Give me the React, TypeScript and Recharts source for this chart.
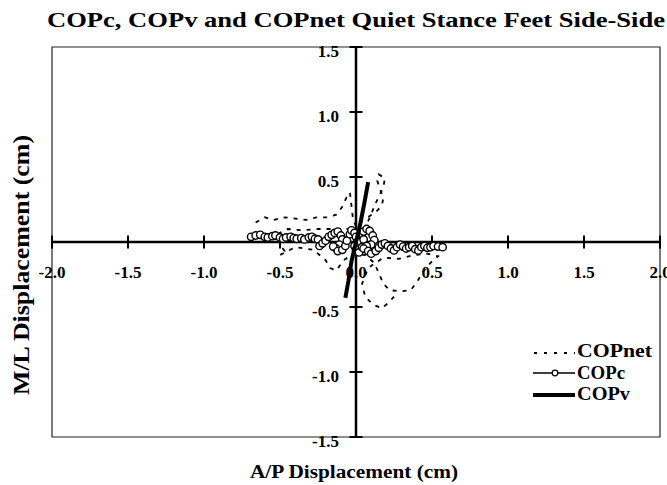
import React from 'react';
import {
  ScatterChart,
  Scatter,
  XAxis,
  YAxis,
  ReferenceLine,
  ReferenceArea,
  ReferenceDot,
  Legend,
} from 'recharts';

const FONT = '"Liberation Serif", "Times New Roman", serif';

const xTicks = [-2, -1.5, -1, -0.5, 0, 0.5, 1, 1.5, 2];
const xTickLabels = ['-2.0', '-1.5', '-1.0', '-0.5', '0.0', '0.5', '1.0', '1.5', '2.0'];
const yTicks = [-1.5, -1, -0.5, 0.5, 1, 1.5];
const yTickLabels = ['-1.5', '-1.0', '-0.5', '0.5', '1.0', '1.5'];
const yTickMarks = [-1.5, -1, -0.5, 0.5, 1, 1.5];

const seriesNames = ['COPnet', 'COPc', 'COPv'];

const copnetPoints: number[][] = [
  [-0.66, 0.15], [-0.6, 0.19], [-0.54, 0.17], [-0.47, 0.19], [-0.4, 0.18], [-0.33, 0.17],
  [-0.26, 0.19], [-0.19, 0.19], [-0.13, 0.21], [-0.09, 0.27], [-0.06, 0.35], [-0.04, 0.38],
  [-0.03, 0.28], [-0.02, 0.18], [0.0, 0.12], [0.04, 0.17], [0.09, 0.2], [0.13, 0.23],
  [0.17, 0.28], [0.18, 0.34], [0.16, 0.4], [0.14, 0.47], [0.15, 0.52], [0.19, 0.49],
  [0.18, 0.42], [0.13, 0.3], [0.08, 0.16], [0.03, 0.06], [-0.05, 0.1], [-0.15, 0.1],
  [-0.25, 0.1], [-0.35, 0.09], [-0.45, 0.1], [-0.52, 0.06], [-0.5, -0.02], [-0.47, -0.07],
  [-0.5, -0.1], [-0.4, -0.04], [-0.28, -0.06], [-0.2, -0.14], [-0.17, -0.2], [-0.13, -0.22],
  [-0.08, -0.14], [-0.02, -0.09], [0.06, -0.1], [0.12, -0.16], [0.15, -0.24], [0.18, -0.32],
  [0.22, -0.37], [0.29, -0.38], [0.36, -0.37], [0.4, -0.31], [0.44, -0.23], [0.49, -0.16],
  [0.54, -0.11], [0.47, -0.09], [0.38, -0.1], [0.28, -0.13], [0.18, -0.12], [0.08, -0.2],
  [0.04, -0.32], [0.06, -0.42], [0.11, -0.48], [0.17, -0.51], [0.22, -0.46], [0.25, -0.42],
];

const copcPoints: number[][] = [
  [-0.69, 0.04], [-0.66, 0.05], [-0.63, 0.055], [-0.6, 0.04], [-0.58, 0.035], [-0.55, 0.045],
  [-0.53, 0.05], [-0.5, 0.035], [-0.48, 0.025], [-0.46, 0.035], [-0.43, 0.04], [-0.41, 0.03],
  [-0.39, 0.025], [-0.36, 0.03], [-0.34, 0.02], [-0.31, 0.035], [-0.29, 0.04], [-0.27, 0.025],
  [-0.25, 0.02], [-0.24, -0.03], [-0.22, -0.01], [-0.2, 0.01], [-0.18, 0.04], [-0.16, 0.055],
  [-0.14, 0.07], [-0.12, 0.08], [-0.1, 0.05], [-0.09, 0.02], [-0.11, -0.02], [-0.13, -0.05],
  [-0.15, -0.035], [-0.12, -0.07], [-0.09, -0.06], [-0.07, -0.03], [-0.06, 0.01], [-0.04, 0.06],
  [-0.03, 0.09], [-0.01, 0.07], [0.0, 0.04], [0.01, 0.0], [-0.01, -0.03], [0.0, -0.06],
  [0.02, -0.08], [0.04, -0.04], [0.05, 0.02], [0.05, 0.08], [0.07, 0.1], [0.09, 0.085],
  [0.11, 0.05], [0.12, 0.015], [0.1, -0.02], [0.07, -0.03], [0.05, -0.05], [0.08, -0.07],
  [0.1, -0.09], [0.13, -0.07], [0.15, -0.045], [0.17, -0.02], [0.19, -0.01], [0.21, -0.03],
  [0.23, -0.05], [0.25, -0.065], [0.27, -0.04], [0.29, -0.02], [0.31, -0.035], [0.33, -0.05],
  [0.35, -0.04], [0.37, -0.03], [0.39, -0.055], [0.41, -0.065], [0.43, -0.04], [0.45, -0.03],
  [0.47, -0.045], [0.49, -0.04], [0.51, -0.03], [0.54, -0.035], [0.57, -0.04],
];

const copvPoints: number[][] = [
  [-0.07, -0.43], [-0.05, -0.3], [-0.03, -0.15], [0.0, 0.0], [0.03, 0.15], [0.055, 0.3], [0.08, 0.46],
];

const toData = (pts: number[][]) => pts.map(([x, y]) => ({ x, y }));
const copnetData = toData(copnetPoints);
const copcData = toData(copcPoints);
const copvData = toData(copvPoints);

const NoShape = () => <g />;
const CircleShape = (p: any) => (
  <circle cx={p.cx} cy={p.cy} r={3.7} fill="#fff" stroke="#000" strokeWidth={1.4} />
);

const tickTextStyle = {
  fontFamily: FONT,
  fontSize: 17,
  fontWeight: 700 as const,
  fill: '#000',
};

const makeXLabel = (text: string) => (p: any) => {
  const vb = p.viewBox || {};
  const cx = (vb.x || 0) + (vb.width || 0) / 2;
  const cy = (vb.y || 0) + (vb.height || 0) / 2;
  return (
    <text x={cx} y={cy + 36} textAnchor="middle" {...tickTextStyle}>
      {text}
    </text>
  );
};

const makeYLabel = (text: string) => (p: any) => {
  const vb = p.viewBox || {};
  const cx = (vb.x || 0) + (vb.width || 0) / 2;
  const cy = (vb.y || 0) + (vb.height || 0) / 2;
  return (
    <text x={cx - 17} y={cy + 9.5} textAnchor="end" {...tickTextStyle}>
      {text}
    </text>
  );
};

const legendWidths = [75, 48, 53];

const LegendContent = () => (
  <svg width={135} height={75} style={{ display: 'block' }}>
    <line x1={4} y1={13} x2={45} y2={13} stroke="#000" strokeWidth={2.2} strokeDasharray="3 7" />
    <text x={47} y={17} fontFamily={FONT} fontSize={18} fontWeight={700} textLength={legendWidths[0]} lengthAdjust="spacingAndGlyphs">
      {seriesNames[0]}
    </text>
    <line x1={3} y1={33} x2={45} y2={33} stroke="#000" strokeWidth={1.3} />
    <circle cx={25} cy={33} r={2.8} fill="#fff" stroke="#000" strokeWidth={1.2} />
    <text x={47} y={39} fontFamily={FONT} fontSize={18} fontWeight={700} textLength={legendWidths[1]} lengthAdjust="spacingAndGlyphs">
      {seriesNames[1]}
    </text>
    <line x1={3} y1={55} x2={45} y2={55} stroke="#000" strokeWidth={4} />
    <text x={47} y={60} fontFamily={FONT} fontSize={18} fontWeight={700} textLength={legendWidths[2]} lengthAdjust="spacingAndGlyphs">
      {seriesNames[2]}
    </text>
  </svg>
);

export default function App() {
  return (
    <div style={{ position: 'absolute', left: 0, top: 0, width: 667, height: 485, background: '#fff' }}>
      <ScatterChart width={667} height={485} margin={{ top: 47, right: 7, bottom: 48, left: 52 }}>
        <XAxis type="number" dataKey="x" domain={[-2, 2]} allowDataOverflow hide />
        <YAxis type="number" dataKey="y" domain={[-1.5, 1.5]} allowDataOverflow hide />
        <ReferenceArea x1={-2} x2={2} y1={-1.5} y2={1.5} fill="none" stroke="#222" strokeWidth={1.2} ifOverflow="visible" />
        <ReferenceLine x={0} stroke="#000" strokeWidth={2.5} />
        <ReferenceLine y={0} stroke="#000" strokeWidth={2.5} />
        {xTicks.map((t, i) => (
          <ReferenceLine
            key={'xt' + i}
            segment={[{ x: t, y: -0.05 }, { x: t, y: 0.05 }]}
            stroke="#000"
            strokeWidth={2}
            ifOverflow="visible"
          />
        ))}
        {yTickMarks.map((t, i) => (
          <ReferenceLine
            key={'yt' + i}
            segment={[{ x: -0.043, y: t }, { x: 0.043, y: t }]}
            stroke="#000"
            strokeWidth={2}
            ifOverflow="visible"
          />
        ))}
        {xTicks.map((t, i) => (
          <ReferenceDot
            key={'xl' + i}
            x={t}
            y={0}
            r={0}
            fill="none"
            stroke="none"
            ifOverflow="visible"
            label={makeXLabel(xTickLabels[i])}
          />
        ))}
        {yTicks.map((t, i) => (
          <ReferenceDot
            key={'yl' + i}
            x={0}
            y={t}
            r={0}
            fill="none"
            stroke="none"
            ifOverflow="visible"
            label={makeYLabel(yTickLabels[i])}
          />
        ))}
        <Scatter
          name={seriesNames[0]}
          data={copnetData}
          line={{ stroke: '#000', strokeWidth: 1.8, strokeDasharray: '4 6' }}
          lineType="joint"
          shape={NoShape}
          isAnimationActive={false}
        />
        <Scatter
          name={seriesNames[1]}
          data={copcData}
          line={{ stroke: '#000', strokeWidth: 1.1 }}
          lineType="joint"
          shape={CircleShape}
          isAnimationActive={false}
        />
        <Scatter
          name={seriesNames[2]}
          data={copvData}
          line={{ stroke: '#000', strokeWidth: 4 }}
          lineType="joint"
          shape={NoShape}
          isAnimationActive={false}
        />
        <Legend
          layout="horizontal"
          verticalAlign="middle"
          align="center"
          content={<LegendContent />}
          wrapperStyle={{ position: 'absolute', left: 530, top: 340, width: 135, height: 75 }}
        />
      </ScatterChart>
      <svg
        width={667}
        height={485}
        style={{ position: 'absolute', left: 0, top: 0, pointerEvents: 'none' }}
      >
        <text x={47} y={27} fontFamily={FONT} fontSize={22} fontWeight={700} textLength={618} lengthAdjust="spacingAndGlyphs">
          COPc, COPv and COPnet Quiet Stance Feet Side-Side
        </text>
        <text x={250} y={478} fontFamily={FONT} fontSize={18} fontWeight={700} textLength={208} lengthAdjust="spacingAndGlyphs">
          A/P Displacement (cm)
        </text>
        <text transform="translate(29,395) rotate(-90)" x={0} y={0} fontFamily={FONT} fontSize={24} fontWeight={700} textLength={260} lengthAdjust="spacingAndGlyphs">
          M/L Displacement (cm)
        </text>
      </svg>
    </div>
  );
}
